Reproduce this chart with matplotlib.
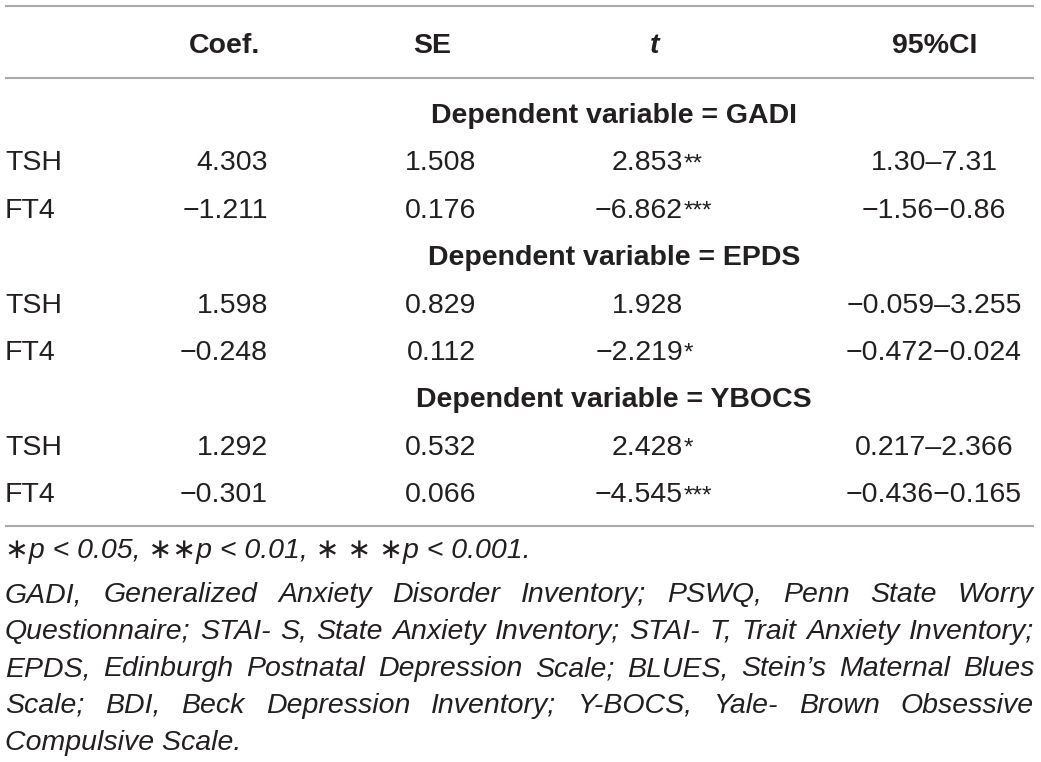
import matplotlib
matplotlib.use("Agg")
import matplotlib.pyplot as plt
from matplotlib import font_manager

# Tabellendaten
header = ["Coef.", "SE", "t", "95%CI"]
groups = ["Dependent variable = GADI",
          "Dependent variable = EPDS",
          "Dependent variable = YBOCS"]
row_names = ["TSH", "FT4"]
coef = [["4.303", "\u22121.211"], ["1.598", "\u22120.248"], ["1.292", "\u22120.301"]]
se = [["1.508", "0.176"], ["0.829", "0.112"], ["0.532", "0.066"]]
t_vals = [["2.853", "\u22126.862"], ["1.928", "\u22122.219"], ["2.428", "\u22124.545"]]
t_stars = [["**", "***"], ["", "*"], ["*", "***"]]
ci = [["1.30\u20137.31", "\u22121.56\u22120.86"],
      ["\u22120.059\u20133.255", "\u22120.472\u22120.024"],
      ["0.217\u20132.366", "\u22120.436\u22120.165"]]

footnote_sig = "\u2217p < 0.05, \u2217\u2217p < 0.01, \u2217 \u2217 \u2217p < 0.001."
footnote_lines = [
    "GADI, Generalized Anxiety Disorder Inventory; PSWQ, Penn State Worry",
    "Questionnaire; STAI- S, State Anxiety Inventory; STAI- T, Trait Anxiety Inventory;",
    "EPDS, Edinburgh Postnatal Depression Scale; BLUES, Stein\u2019s Maternal Blues",
    "Scale; BDI, Beck Depression Inventory; Y-BOCS, Yale- Brown Obsessive",
    "Compulsive Scale.",
]

available = {f.name for f in font_manager.fontManager.ttflist}
narrow = "Liberation Sans Narrow" if "Liberation Sans Narrow" in available else "Liberation Sans"
print("narrow font:", narrow)

txt_color = "#231f20"
rule_color = "#a9a9a9"
fs = 20.5

fig = plt.figure(figsize=(10.41, 7.62), dpi=100)
ax = fig.add_axes([0, 0, 1, 1])
ax.set_xlim(0, 1041)
ax.set_ylim(762, 0)
ax.axis("off")

# Linien
ax.hlines([6, 78, 526], 5, 1034, colors=rule_color, linewidth=1.5)

base = dict(fontfamily=["Liberation Sans", "DejaVu Sans"], color=txt_color, va="baseline")

# Kopfzeile
head_x = [225, 432, 655, 935]
for hx, h in zip(head_x, header):
    style = "italic" if h == "t" else "normal"
    ax.text(hx, 53, h, ha="center", fontsize=fs, fontweight="bold", fontstyle=style, **base)

y = 123
step = 47.4
for g in range(len(groups)):
    ax.text(614, y, groups[g], ha="center", fontsize=fs, fontweight="bold", **base)
    y += step
    for r in range(len(row_names)):
        ax.text(5, y, row_names[r], ha="left", fontsize=fs, **base)
        ax.text(268, y, coef[g][r], ha="right", fontsize=fs, **base)
        ax.text(441, y, se[g][r], ha="center", fontsize=fs, **base)
        ax.text(683, y, t_vals[g][r], ha="right", fontsize=fs, **base)
        if t_stars[g][r]:
            ax.text(684, y, t_stars[g][r], ha="left", fontsize=fs * 0.85, **base)
        ax.text(934, y, ci[g][r], ha="center", fontsize=fs, **base)
        y += step

# Fussnote
fn = dict(fontfamily=[narrow, "DejaVu Sans"], fontstyle="italic", color=txt_color,
          va="baseline", fontsize=fs)
ax.text(5, 558, footnote_sig, ha="left", **fn)

renderer = fig.canvas.get_renderer()
left, right = 5, 1034
fy = 602
for i, line in enumerate(footnote_lines):
    words = line.split(" ")
    if i == len(footnote_lines) - 1:
        ax.text(left, fy, line, ha="left", **fn)
    else:
        objs = [ax.text(0, fy, w, ha="left", **fn) for w in words]
        widths = [o.get_window_extent(renderer).width for o in objs]
        gap = (right - left - sum(widths)) / (len(words) - 1)
        x = left
        for o, w in zip(objs, widths):
            o.set_x(x)
            x += w + gap
    fy += 37

fig.savefig("out.png", dpi=100)
